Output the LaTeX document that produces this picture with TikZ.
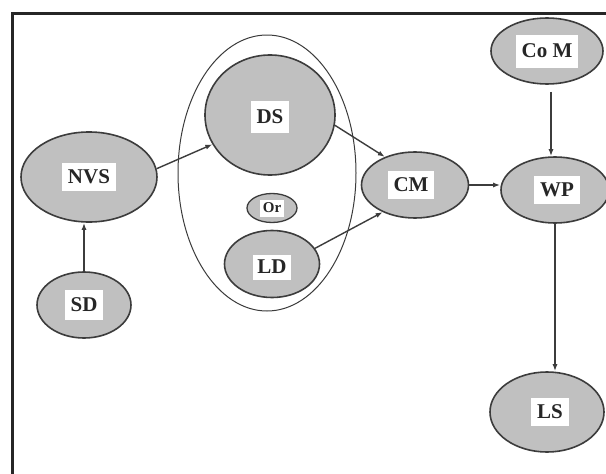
\documentclass[tikz,border=0pt]{standalone}
\usepackage{fontspec}
\setmainfont{Liberation Serif}
\usetikzlibrary{shapes.geometric,arrows.meta}
\definecolor{nodefill}{RGB}{192,192,192}
\definecolor{edge}{RGB}{60,60,60}
\tikzset{
  ell/.style={ellipse,draw=edge,line width=1.6pt,fill=nodefill,inner sep=0pt},
  lbl/.style={fill=white,inner xsep=6pt,inner ysep=0pt,minimum height=28pt,font=\bfseries\fontsize{21}{21}\selectfont,text=black!85},
  arr/.style={draw=edge,line width=1.4pt,-{Latex[length=7pt,width=5pt]}},
}
\begin{document}
\begin{tikzpicture}[x=1pt,y=-1pt]
\useasboundingbox (0,0) rectangle (606,474);
\clip (0,0) rectangle (606,474);
\fill[white] (0,0) rectangle (606,474);
\draw[line width=3pt,black!85] (620,13) -- (12,13) -- (12,490);
% outer grouping ellipse
\node[ellipse,draw=edge,line width=1pt,minimum width=178pt,minimum height=276pt,inner sep=0pt] (grp) at (267,173) {};
\node[ell,minimum width=136pt,minimum height=90pt,label={[lbl]center:NVS}] (NVS) at (89,177) {};
\node[ell,minimum width=94pt,minimum height=66pt,label={[lbl,minimum height=30pt]center:SD}] (SD) at (84,305) {};
\node[ell,minimum width=130pt,minimum height=120pt,label={[lbl,yshift=-2pt,minimum height=32pt]center:DS}] (DS) at (270,115) {};
\node[ell,minimum width=50pt,minimum height=29pt,line width=1.3pt,label={[lbl,font=\bfseries\fontsize{15}{15}\selectfont,minimum height=17pt,inner xsep=3pt]center:Or}] (Or) at (272,208) {};
\node[ell,minimum width=95pt,minimum height=67pt,label={[lbl,yshift=-3pt,minimum height=25pt,inner xsep=4pt]center:LD}] (LD) at (272,264) {};
\node[ell,minimum width=107pt,minimum height=66pt,label={[lbl,xshift=-4pt]center:CM}] (CM) at (415,185) {};
\node[ell,minimum width=108pt,minimum height=66pt,label={[lbl,xshift=2pt]center:WP}] (WP) at (555,190) {};
\node[ell,minimum width=112pt,minimum height=66pt,label={[lbl,minimum height=33pt]center:Co M}] (CoM) at (547,51) {};
\node[ell,minimum width=114pt,minimum height=80pt,label={[lbl,xshift=3pt]center:LS}] (LS) at (547,412) {};
% connectors
\draw[arr] (SD.north) -- (SD.north |- NVS.south);
\draw[arr] (NVS.7) -- (DS.207);
\draw[arr] (DS.-9) -- (CM.137);
\draw[arr] (LD.20) -- (CM.220);
\draw[arr] (CM.east) -- (CM.east -| WP.west);
\draw[arr,shorten <=7pt] ([xshift=4pt]CoM.south) -- ([xshift=4pt]CoM.south |- WP.north);
\draw[arr] (WP.south) -- (WP.south |- LS.north);
\end{tikzpicture}
\end{document}
